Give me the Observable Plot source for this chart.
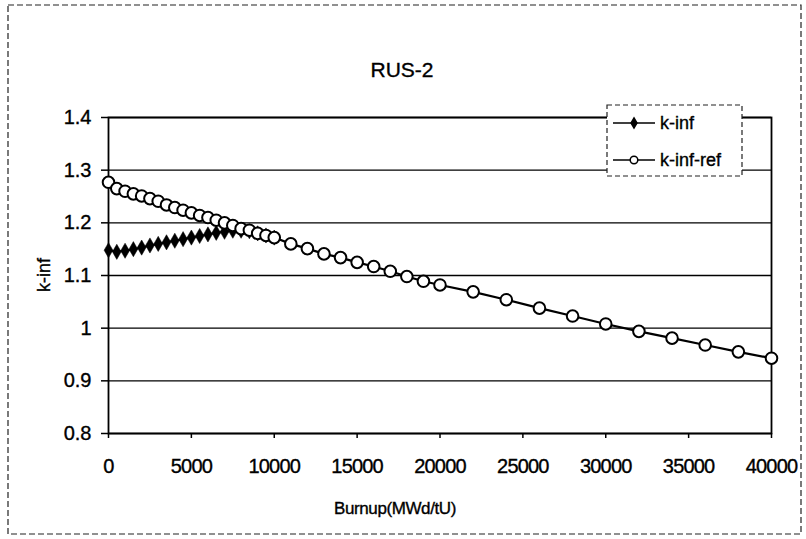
<!DOCTYPE html>
<html>
<head>
<meta charset="utf-8">
<script src="https://cdn.jsdelivr.net/npm/d3@7"></script>
<script src="https://cdn.jsdelivr.net/npm/@observablehq/plot@0.6"></script>
<style>
  html, body { margin: 0; padding: 0; background: white; }
  #chart svg { display: block; }
  #chart svg text { stroke: black; stroke-width: 0.35px; }
</style>
</head>
<body>
<div id="chart"></div>
<script>
// ---- data ----
const titleText = "RUS-2";
const xLabel = "Burnup(MWd/tU)";
const yLabel = "k-inf";
const seriesNames = ["k-inf", "k-inf-ref"];

const xTicks = [0, 5000, 10000, 15000, 20000, 25000, 30000, 35000, 40000];
const yTicks = [0.8, 0.9, 1.0, 1.1, 1.2, 1.3, 1.4];
const yTickLabels = ["0.8", "0.9", "1", "1.1", "1.2", "1.3", "1.4"];

const kinfBurnup = [0, 500, 1000, 1500, 2000, 2500, 3000, 3500, 4000, 4500, 5000,
                    5500, 6000, 6500, 7000, 7500, 8000, 8500, 9000, 9500, 10000];
const kinfValues = [1.148, 1.145, 1.147, 1.150, 1.153, 1.157, 1.160, 1.163, 1.166, 1.169, 1.172,
                    1.175, 1.178, 1.181, 1.183, 1.185, 1.185, 1.184, 1.180, 1.176, 1.172];

const refBurnup = [0, 500, 1000, 1500, 2000, 2500, 3000, 3500, 4000, 4500, 5000,
                   5500, 6000, 6500, 7000, 7500, 8000, 8500, 9000, 9500, 10000,
                   11000, 12000, 13000, 14000, 15000, 16000, 17000, 18000, 19000, 20000,
                   22000, 24000, 26000, 28000, 30000, 32000, 34000, 36000, 38000, 40000];
const refValues = [1.277, 1.265, 1.260, 1.255, 1.251, 1.246, 1.241, 1.234, 1.229, 1.224, 1.219,
                   1.214, 1.210, 1.205, 1.200, 1.195, 1.189, 1.186, 1.180, 1.176, 1.172,
                   1.160, 1.151, 1.141, 1.134, 1.125, 1.117, 1.108, 1.098, 1.089, 1.082,
                   1.069, 1.054, 1.038, 1.023, 1.008, 0.994, 0.981, 0.968, 0.955, 0.943];

const kinf = kinfBurnup.map((b, i) => ({burnup: b, k: kinfValues[i]}));
const ref = refBurnup.map((b, i) => ({burnup: b, k: refValues[i]}));

const W = 806, H = 539;
const font = "'Liberation Sans', Arial, sans-serif";

const chart = Plot.plot({
  width: W, height: H,
  marginLeft: 108, marginRight: 35, marginTop: 117, marginBottom: 106,
  style: {fontFamily: font, fontSize: "20px", color: "black", background: "white"},
  x: {domain: [0, 40000], label: null},
  y: {domain: [0.8, 1.4], label: null},
  marks: [
    Plot.ruleY(yTicks, {stroke: "black", strokeWidth: 1.3}),
    Plot.frame({stroke: "black", strokeWidth: 1.8}),
    Plot.axisX({ticks: xTicks, tickFormat: d => String(d), tickSize: 5, tickPadding: 20,
                fontSize: 20, label: null, strokeWidth: 1.5}),
    Plot.axisY({ticks: yTicks, tickFormat: d => yTickLabels[yTicks.indexOf(d)] ?? String(d),
                tickSize: 7, tickPadding: 10, fontSize: 20, label: null, strokeWidth: 1.5}),
    Plot.line(kinf, {x: "burnup", y: "k", stroke: "black", strokeWidth: 2}),
    Plot.dot(kinf, {x: "burnup", y: "k", symbol: "diamond", r: 4.6, fill: "black", stroke: "black", strokeWidth: 0.5}),
    Plot.line(ref, {x: "burnup", y: "k", stroke: "black", strokeWidth: 2.2}),
    Plot.dot(ref, {x: "burnup", y: "k", symbol: "circle", r: 5.8, fill: "white", stroke: "black", strokeWidth: 2})
  ]
});

document.getElementById("chart").appendChild(chart);

const svg = d3.select(chart);
svg.selectAll("g[aria-label='x-axis tick label'] text, g[aria-label='x-axis tick label']")
  .attr("letter-spacing", -0.8);

// outer dashed border
svg.append("rect")
  .attr("x", 8).attr("y", 5).attr("width", 793).attr("height", 529)
  .attr("fill", "none").attr("stroke", "#222").attr("stroke-width", 1.2)
  .attr("stroke-dasharray", "6,3");

// title
svg.append("text")
  .attr("x", 402).attr("y", 77)
  .attr("text-anchor", "middle")
  .attr("font-family", font).attr("font-size", 21)
  .attr("fill", "black")
  .text(titleText);

// x label
svg.append("text")
  .attr("x", 395).attr("y", 514)
  .attr("text-anchor", "middle")
  .attr("font-family", font).attr("font-size", 17)
  .attr("letter-spacing", -0.4)
  .attr("fill", "black")
  .text(xLabel);

// y label
svg.append("text")
  .attr("transform", "translate(50,275) rotate(-90)")
  .attr("text-anchor", "middle")
  .attr("font-family", font).attr("font-size", 18)
  .attr("fill", "black")
  .text(yLabel);

// legend
const lg = svg.append("g");
lg.append("rect")
  .attr("x", 607).attr("y", 105).attr("width", 135).attr("height", 71)
  .attr("fill", "white").attr("stroke", "#222").attr("stroke-width", 1.2)
  .attr("stroke-dasharray", "5,3");
const rows = [
  {name: seriesNames[0], y: 123, sym: d3.symbolDiamond, fill: "black", size: 30},
  {name: seriesNames[1], y: 160, sym: d3.symbolCircle, fill: "white", size: 45}
];
rows.forEach(r => {
  lg.append("line").attr("x1", 613).attr("x2", 655).attr("y1", r.y).attr("y2", r.y)
    .attr("stroke", "black").attr("stroke-width", 1.6);
  lg.append("path").attr("d", d3.symbol(r.sym, r.size)())
    .attr("transform", `translate(634,${r.y})`)
    .attr("fill", r.fill).attr("stroke", "black").attr("stroke-width", 1.5);
  lg.append("text").attr("x", 660).attr("y", r.y).attr("dy", "0.36em")
    .attr("text-anchor", "start")
    .attr("font-family", font).attr("font-size", 18).attr("fill", "black")
    .text(r.name);
});
</script>
</body>
</html>
